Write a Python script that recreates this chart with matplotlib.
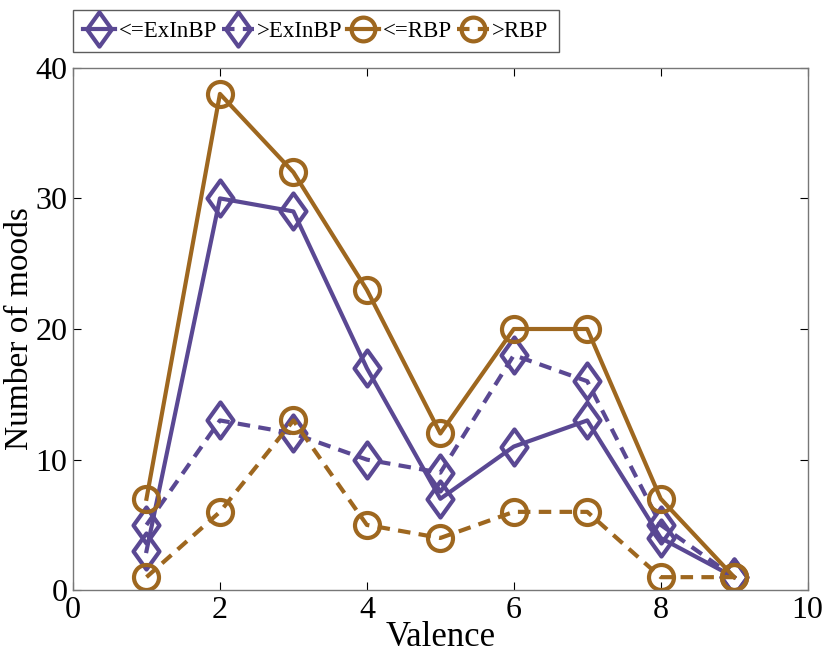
import matplotlib
matplotlib.use("Agg")
import matplotlib.pyplot as plt
from matplotlib.path import Path

plt.rcParams['font.family'] = ['Liberation Serif', 'DejaVu Serif']

valence = [1, 2, 3, 4, 5, 6, 7, 8, 9]
le_exinbp = [3, 30, 29, 17, 7, 11, 13, 4, 1]
gt_exinbp = [5, 13, 12, 10, 9, 18, 16, 5, 1]
le_rbp = [7, 38, 32, 23, 12, 20, 20, 7, 1]
gt_rbp = [1, 6, 13, 5, 4, 6, 6, 1, 1]

purple = '#5a4893'
brown = '#9e671f'

# diamond a bit wider than matplotlib's thin 'd'
diamond = Path([(0, 1), (0.72, 0), (0, -1), (-0.72, 0), (0, 1)],
               [Path.MOVETO, Path.LINETO, Path.LINETO, Path.LINETO, Path.CLOSEPOLY])

fig = plt.figure(figsize=(8.25, 6.58), dpi=100)
ax = fig.add_axes([0.0885, 0.103, 0.8905, 0.794])

kw = dict(linewidth=3.0, markeredgewidth=3.0, markerfacecolor='none')
dash = (3.0, 2.0)
ax.plot(valence, le_exinbp, '-', marker=diamond, markersize=26, color=purple, label='<=ExInBP', **kw)
ax.plot(valence, gt_exinbp, '--', marker=diamond, markersize=26, color=purple, label='>ExInBP', dashes=dash, **kw)
ax.plot(valence, le_rbp, '-', marker='o', markersize=18, color=brown, label='<=RBP', **kw)
ax.plot(valence, gt_rbp, '--', marker='o', markersize=18, color=brown, label='>RBP', dashes=dash, **kw)

ax.set_xlim(0, 10)
ax.set_ylim(0, 40)
ax.set_xticks([0, 2, 4, 6, 8, 10])
ax.set_yticks([0, 10, 20, 30, 40])
ax.tick_params(direction='in', labelsize=23, length=6, width=0.8, top=True, right=True, pad=4)
for s in ax.spines.values():
    s.set_color('#777777')
    s.set_linewidth(1.0)

ax.set_xlabel('Valence', fontsize=25, labelpad=-3)
ax.set_ylabel('Number of moods', fontsize=24, labelpad=0)

leg = ax.legend(loc='lower left', bbox_to_anchor=(0.0, 1.03), ncol=4, fontsize=16.5,
                frameon=True, fancybox=False, handlelength=1.4, handletextpad=0.15,
                columnspacing=0.2, borderpad=0.45, borderaxespad=0.0, markerscale=0.95)
leg.get_frame().set_edgecolor('#333333')
leg.get_frame().set_linewidth(1.0)

fig.savefig('out.png', dpi=100)
